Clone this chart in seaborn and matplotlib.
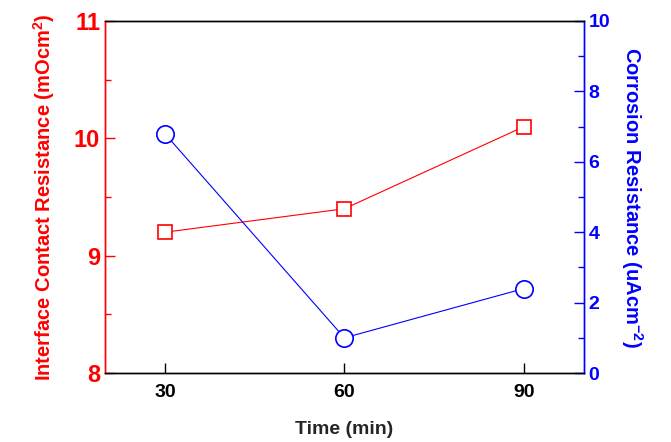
import matplotlib
matplotlib.use("Agg")
import matplotlib.pyplot as plt
import seaborn as sns
import pandas as pd
from matplotlib.ticker import MultipleLocator

# data
time_min = [30, 60, 90]
contact_res = [9.2, 9.4, 10.1]
corrosion_res = [6.8, 1.0, 2.4]

sns.set_style("ticks")
plt.rcParams['font.family'] = ['Liberation Sans', 'DejaVu Sans']
plt.rcParams['font.weight'] = 'bold'
plt.rcParams['mathtext.fontset'] = 'custom'
plt.rcParams['mathtext.rm'] = 'Liberation Sans:bold'
plt.rcParams['mathtext.bf'] = 'Liberation Sans:bold'
plt.rcParams['mathtext.it'] = 'Liberation Sans:bold'

df = pd.DataFrame({'time': time_min, 'icr': contact_res, 'corr': corrosion_res})

fig = plt.figure(figsize=(6.71, 4.42), dpi=100)
ax = fig.add_axes([0.1565, 0.156, 0.7135, 0.7965])
ax2 = ax.twinx()

sns.lineplot(data=df, x='time', y='icr', ax=ax, color='red', lw=0.8,
             marker='s', markersize=10.5, markerfacecolor='white',
             markeredgecolor='red', markeredgewidth=1.2)
sns.lineplot(data=df, x='time', y='corr', ax=ax2, color='blue', lw=0.8,
             marker='o', markersize=12.5, markerfacecolor='white',
             markeredgecolor='blue', markeredgewidth=1.2)

ax.set_xlim(20, 100)
ax.set_ylim(8, 11)
ax2.set_ylim(0, 10)
ax.set_xticks(time_min)
ax.yaxis.set_major_locator(MultipleLocator(1))
ax.yaxis.set_minor_locator(MultipleLocator(0.5))
ax2.yaxis.set_major_locator(MultipleLocator(2))
ax2.yaxis.set_minor_locator(MultipleLocator(1))

ax.tick_params(axis='x', direction='in', length=7, width=1, colors='black',
               labelsize=14, pad=8)
ax.tick_params(axis='y', which='both', direction='in', colors='red',
               labelsize=17, width=1)
ax.tick_params(axis='y', which='major', length=7)
ax.tick_params(axis='y', which='minor', length=4)
ax2.tick_params(axis='y', which='both', direction='in', colors='blue',
                labelsize=14, width=1)
ax2.tick_params(axis='y', which='major', length=7)
ax2.tick_params(axis='y', which='minor', length=4)

for a in (ax, ax2):
    for s in a.spines.values():
        s.set_linewidth(1)
    a.spines['top'].set_color('black')
    a.spines['bottom'].set_color('black')
    a.spines['left'].set_color('red')
    a.spines['right'].set_color('blue')

ax.set_xlabel('Time (min)', fontsize=14, fontweight='bold', labelpad=14)
ax.set_ylabel(r'Interface Contact Resistance (mOcm$^{\mathbf{2}}$)',
              fontsize=14.5, fontweight='bold', color='red', labelpad=12)
ax2.set_ylabel(r'Corrosion Resistance (uAcm$^{\mathbf{-2}}$)',
               fontsize=14.5, fontweight='bold', color='blue',
               rotation=270, labelpad=25)

for lab in ax.get_xticklabels() + ax.get_yticklabels() + ax2.get_yticklabels():
    lab.set_fontweight('bold')

fig.savefig('out.png', dpi=100)
